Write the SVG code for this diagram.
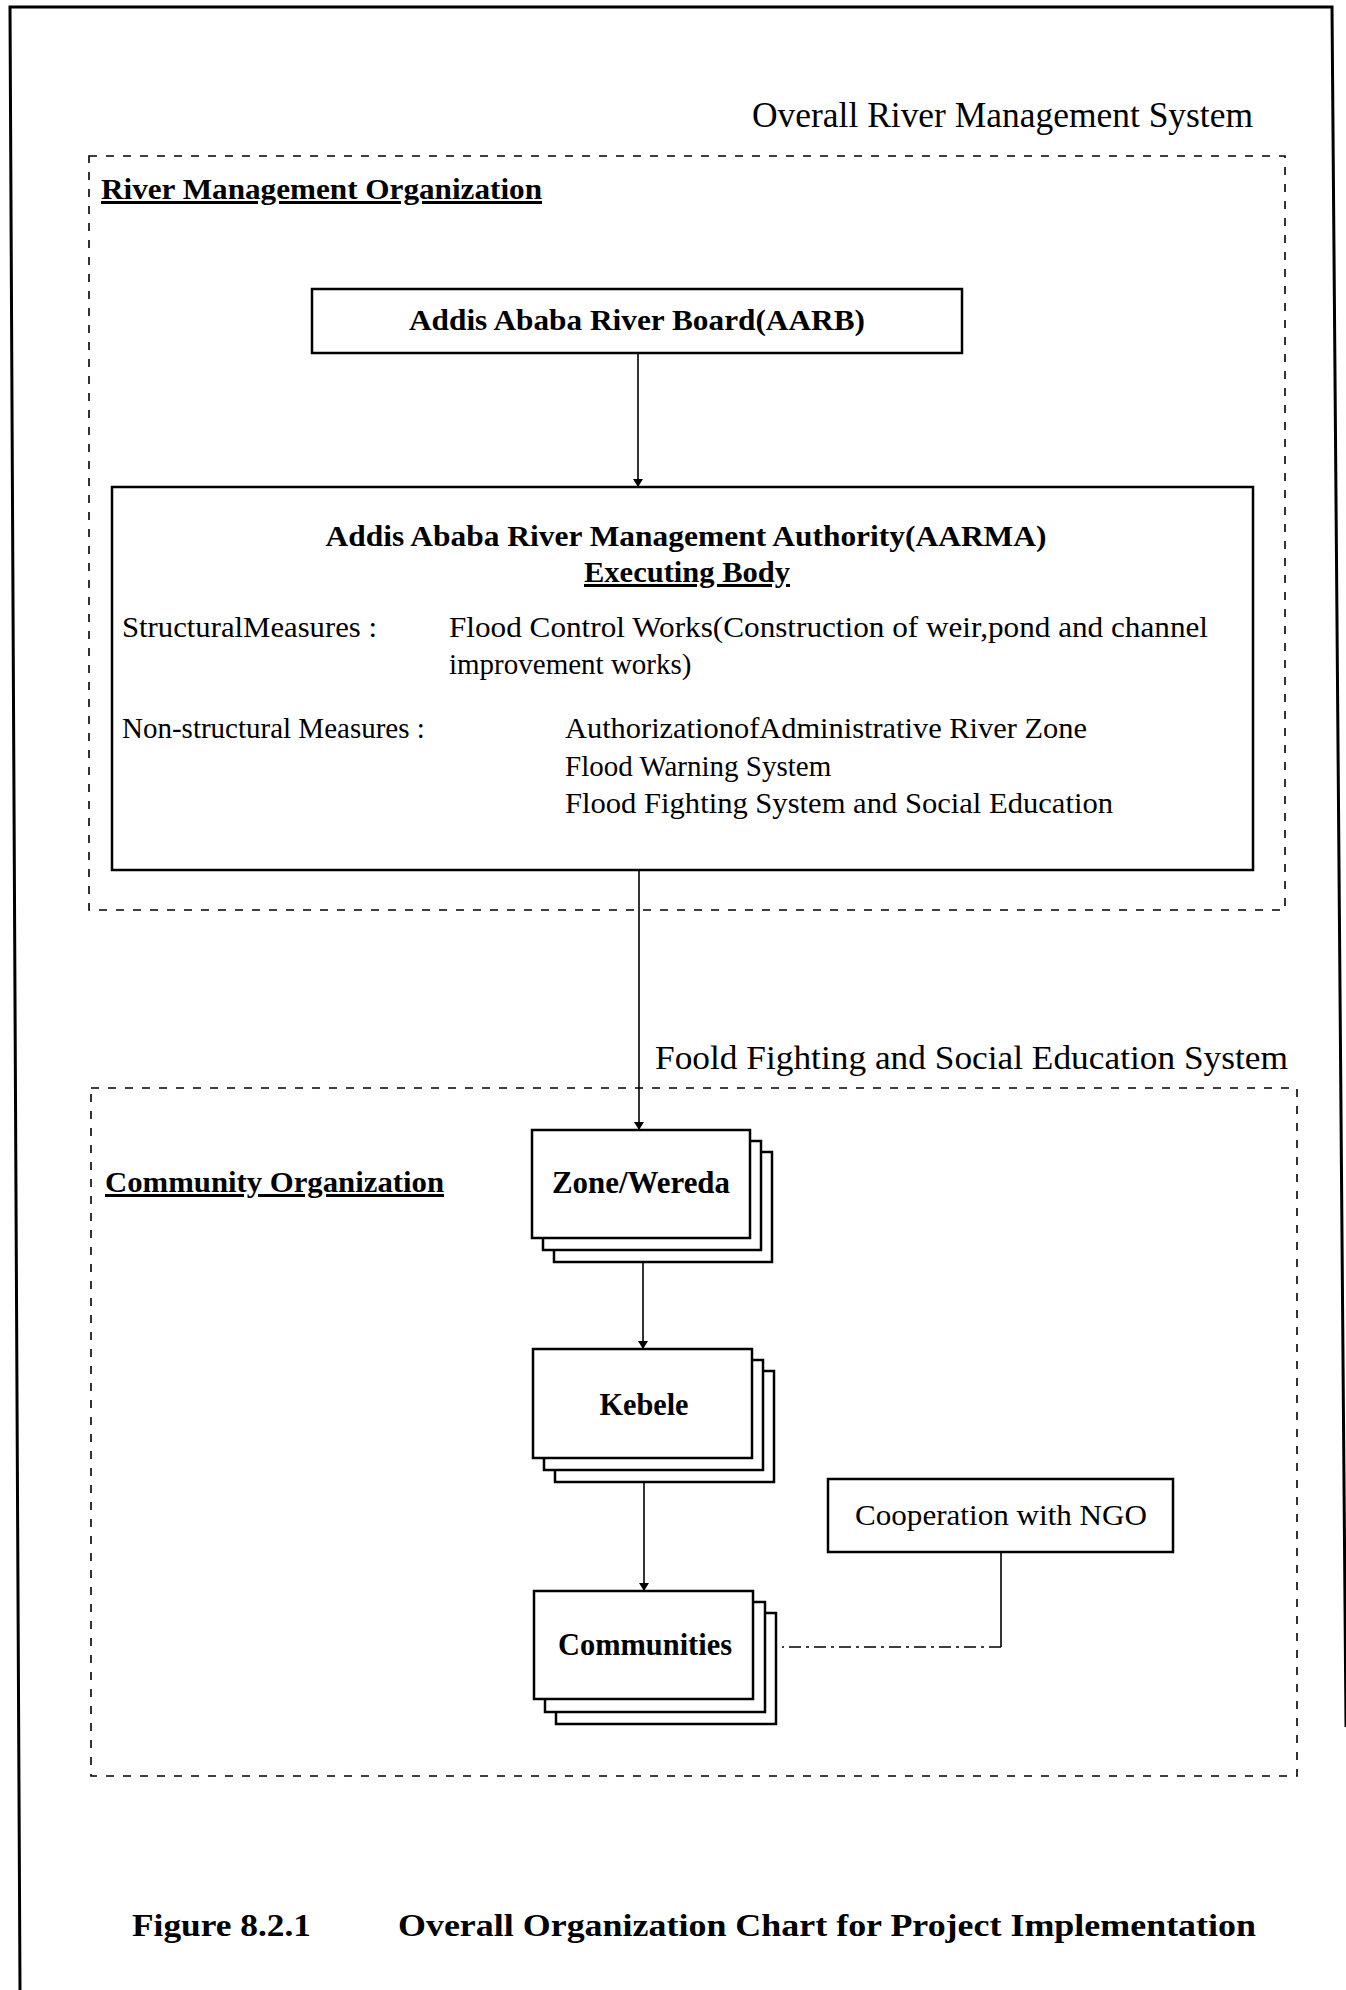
<svg xmlns="http://www.w3.org/2000/svg" width="1346" height="1990" viewBox="0 0 1346 1990">
<defs>
<style>
.frame{fill:none;stroke:#000;stroke-width:3}
.dash{fill:none;stroke:#000;stroke-width:1.6;stroke-dasharray:8 9}
.box{fill:#fff;stroke:#000;stroke-width:2.5}
.conn{fill:none;stroke:#000;stroke-width:1.6}
.dot{fill:none;stroke:#000;stroke-width:1.3;stroke-dasharray:12 5 3 5}
.t{font-family:"Liberation Serif","Times New Roman",serif;fill:#000}
.b{font-weight:bold}
.u{text-decoration:underline}
</style>
<marker id="arr" viewBox="0 0 8 14" refX="8" refY="7" markerWidth="8" markerHeight="14" markerUnits="userSpaceOnUse" orient="auto">
<path d="M0,2 L8,7 L0,12 z" fill="#000"/>
</marker>
</defs>
<rect width="1346" height="1990" fill="#fff"/>
<g id="frame">
<polyline class="frame" points="20,1990 10,7 1332,7 1346,1727"/>
</g>
<g id="titles">
<text class="t" x="752" y="127" font-size="35" textLength="501" lengthAdjust="spacingAndGlyphs">Overall River Management System</text>
<text class="t" x="655" y="1069" font-size="34" textLength="633" lengthAdjust="spacingAndGlyphs">Foold Fighting and Social Education System</text>
<text class="t b" x="132" y="1936" font-size="32" textLength="179" lengthAdjust="spacingAndGlyphs">Figure 8.2.1</text>
<text class="t b" x="398" y="1936" font-size="32" textLength="858" lengthAdjust="spacingAndGlyphs">Overall Organization Chart for Project Implementation</text>
</g>
<g id="river-management-organization">
<rect class="dash" x="89" y="156" width="1196" height="754"/>
<text class="t b u" x="101" y="199" font-size="30" textLength="441" lengthAdjust="spacingAndGlyphs">River Management Organization</text>
</g>
<g id="community-organization">
<rect class="dash" x="91" y="1088" width="1206" height="688"/>
<text class="t b u" x="105" y="1192" font-size="30" textLength="339" lengthAdjust="spacingAndGlyphs">Community Organization</text>
</g>
<g id="connectors">
<line class="conn" x1="638" y1="353" x2="638" y2="487" marker-end="url(#arr)"/>
<line class="conn" x1="639" y1="870" x2="639" y2="1130" marker-end="url(#arr)"/>
<line class="conn" x1="643" y1="1262" x2="643" y2="1349" marker-end="url(#arr)"/>
<line class="conn" x1="644" y1="1482" x2="644" y2="1591" marker-end="url(#arr)"/>
<line class="conn" x1="1001" y1="1552" x2="1001" y2="1647"/>
<line class="dot" x1="1001" y1="1647" x2="782" y2="1647"/>
</g>
<g id="aarb">
<rect class="box" x="312" y="289" width="650" height="64"/>
<text class="t b" x="637" y="330" font-size="30" text-anchor="middle" textLength="456" lengthAdjust="spacingAndGlyphs">Addis Ababa River Board(AARB)</text>
</g>
<g id="aarma">
<rect class="box" x="112" y="487" width="1141" height="383"/>
<text class="t b" x="686" y="546" font-size="30" text-anchor="middle" textLength="721" lengthAdjust="spacingAndGlyphs">Addis Ababa River Management Authority(AARMA)</text>
<text class="t b u" x="687" y="582" font-size="30" text-anchor="middle" textLength="206" lengthAdjust="spacingAndGlyphs">Executing Body</text>
<text class="t" x="122" y="637" font-size="29" textLength="255" lengthAdjust="spacingAndGlyphs">StructuralMeasures :</text>
<text class="t" x="449" y="637" font-size="29" textLength="759" lengthAdjust="spacingAndGlyphs">Flood Control Works(Construction of weir,pond and channel</text>
<text class="t" x="449" y="674" font-size="29">improvement works)</text>
<text class="t" x="122" y="738" font-size="29">Non-structural Measures :</text>
<text class="t" x="565" y="738" font-size="29" textLength="522" lengthAdjust="spacingAndGlyphs">AuthorizationofAdministrative River Zone</text>
<text class="t" x="565" y="776" font-size="29">Flood Warning System</text>
<text class="t" x="565" y="813" font-size="29" textLength="548" lengthAdjust="spacingAndGlyphs">Flood Fighting System and Social Education</text>
</g>
<g id="zone-wereda">
<rect class="box" x="554" y="1152" width="218" height="110"/>
<rect class="box" x="543" y="1141" width="218" height="109"/>
<rect class="box" x="532" y="1130" width="218" height="108"/>
<text class="t b" x="641" y="1193" font-size="31" text-anchor="middle" textLength="178" lengthAdjust="spacingAndGlyphs">Zone/Wereda</text>
</g>
<g id="kebele">
<rect class="box" x="555" y="1371" width="219" height="111"/>
<rect class="box" x="544" y="1360" width="219" height="110"/>
<rect class="box" x="533" y="1349" width="219" height="109"/>
<text class="t b" x="644" y="1415" font-size="31" text-anchor="middle" textLength="89" lengthAdjust="spacingAndGlyphs">Kebele</text>
</g>
<g id="communities">
<rect class="box" x="556" y="1613" width="220" height="111"/>
<rect class="box" x="545" y="1602" width="220" height="110"/>
<rect class="box" x="534" y="1591" width="219" height="108"/>
<text class="t b" x="645" y="1655" font-size="31" text-anchor="middle" textLength="174" lengthAdjust="spacingAndGlyphs">Communities</text>
</g>
<g id="ngo">
<rect class="box" x="828" y="1479" width="345" height="73"/>
<text class="t" x="1001" y="1525" font-size="29" text-anchor="middle" textLength="292" lengthAdjust="spacingAndGlyphs">Cooperation with NGO</text>
</g>
</svg>
